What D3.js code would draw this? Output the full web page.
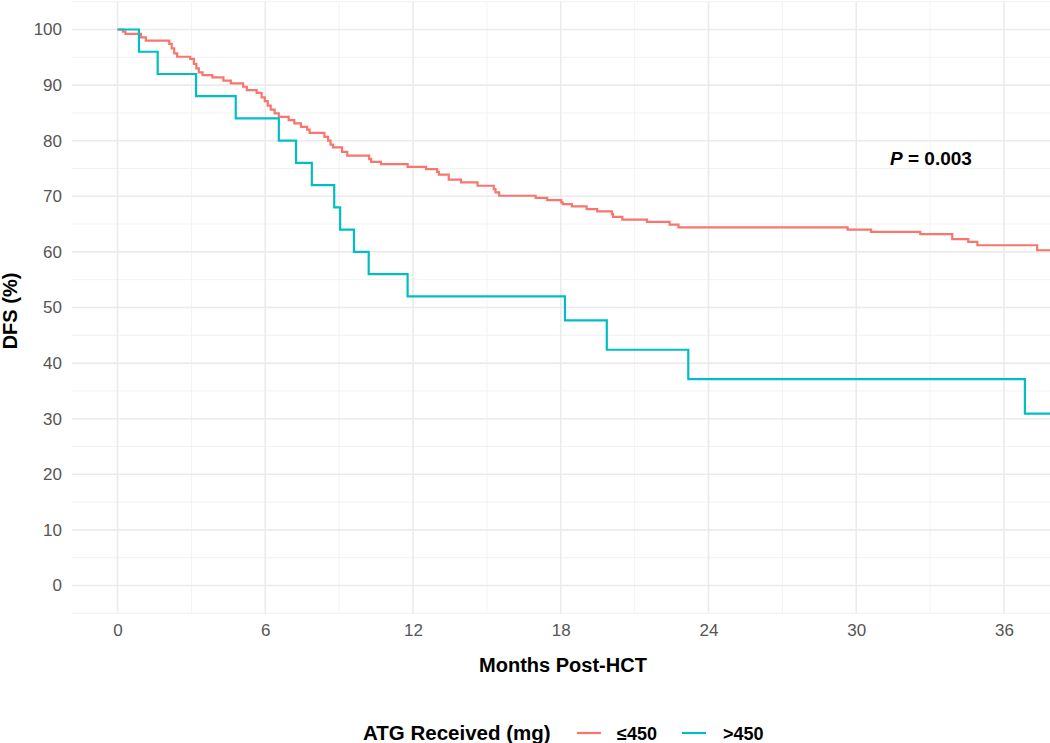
<!DOCTYPE html>
<html>
<head>
<meta charset="utf-8">
<script src="https://cdn.jsdelivr.net/npm/d3@7"></script>
<style>
  html, body { margin: 0; padding: 0; background: #ffffff; }
  svg { display: block; font-family: "Liberation Sans", Arial, sans-serif; }
</style>
</head>
<body>
<svg id="chart" width="1050" height="743"></svg>
<script>
// ---- data ----
const monthTicks = [0, 6, 12, 18, 24, 30, 36];
const monthMinor = [3, 9, 15, 21, 27, 33];
const dfsTicks = [0, 10, 20, 30, 40, 50, 60, 70, 80, 90, 100];
const dfsMinor = [-5, 5, 15, 25, 35, 45, 55, 65, 75, 85, 95, 105];

const groupNames = ["\u2264450", ">450"];
const groupColors = ["#F8766D", "#00BFC4"];

// ATG <= 450 mg : step times (months) and DFS (%) after each step
const lowTimes = [0, 0.22, 0.32, 0.95, 1.15, 2.1, 2.2, 2.3, 2.42, 2.95, 3.1, 3.2, 3.3, 3.45,
  3.85, 4.3, 4.6, 5.1, 5.25, 5.65, 5.85, 5.98, 6.1, 6.22, 6.38, 6.55, 6.95, 7.18, 7.45,
  7.7, 7.8, 8.4, 8.55, 8.65, 8.75, 9.12, 9.33, 10.22, 10.3, 10.7, 11.78, 12.53, 12.98,
  13.05, 13.45, 13.95, 14.62, 15.28, 15.35, 15.5, 16.98, 17.45, 18.02, 18.08, 18.45,
  19.05, 19.48, 20.08, 20.12, 20.5, 21.5, 22.42, 22.78, 29.65, 30.6, 32.6, 33.9, 34.55,
  34.92, 37.35];
const lowDFS = [100, 99.6, 99.2, 98.6, 98.0, 97.4, 96.6, 95.7, 95.1, 94.7, 93.8, 93.0, 92.3, 91.8,
  91.4, 90.8, 90.3, 89.7, 89.1, 88.6, 87.8, 87.1, 86.3, 85.6, 84.9, 84.3, 83.7, 83.1, 82.5,
  82.0, 81.4, 80.7, 80.0, 79.3, 78.8, 78.0, 77.3, 76.7, 76.2, 75.8, 75.3, 74.9, 74.4,
  73.9, 73.0, 72.5, 71.9, 71.3, 70.7, 70.1, 69.7, 69.3, 68.9, 68.6, 68.2,
  67.7, 67.3, 66.8, 66.3, 65.8, 65.4, 64.9, 64.4, 64.0, 63.6, 63.2, 62.3, 61.8,
  61.2, 60.3];

// ATG > 450 mg
const highTimes = [0, 0.87, 1.63, 3.19, 4.8, 6.55, 7.25, 7.89, 8.8, 9.04, 9.6, 10.2, 11.78,
  18.17, 19.87, 23.18, 36.85];
const highDFS = [100, 96, 92, 88, 84, 80, 76, 72, 68, 64, 60, 56, 52, 47.7, 42.4, 37.1, 30.9];

const lastFollowUp = [37.9, 37.9];
const pValueText = "= 0.003";

// ---- layout ----
const svg = d3.select("#chart");
const panel = { left: 72, right: 1050, top: 1.7, bottom: 613.3 };

const x = d3.scaleLinear().domain([-1.85, 37.87]).range([panel.left, panel.right]);
const y = d3.scaleLinear().domain([-5, 105]).range([panel.bottom, panel.top]);

const grid = svg.append("g");
// minor grid
grid.selectAll("line.ymin").data(dfsMinor).join("line")
  .attr("x1", panel.left).attr("x2", panel.right)
  .attr("y1", d => y(d)).attr("y2", d => y(d))
  .attr("stroke", "#f0f0f0").attr("stroke-width", 0.9);
grid.selectAll("line.xmin").data(monthMinor).join("line")
  .attr("y1", panel.top).attr("y2", panel.bottom)
  .attr("x1", d => x(d)).attr("x2", d => x(d))
  .attr("stroke", "#f0f0f0").attr("stroke-width", 0.9);
// major grid
grid.selectAll("line.ymaj").data(dfsTicks).join("line")
  .attr("x1", panel.left).attr("x2", panel.right)
  .attr("y1", d => y(d)).attr("y2", d => y(d))
  .attr("stroke", "#ebebeb").attr("stroke-width", 1.6);
grid.selectAll("line.xmaj").data(monthTicks).join("line")
  .attr("y1", panel.top).attr("y2", panel.bottom)
  .attr("x1", d => x(d)).attr("x2", d => x(d))
  .attr("stroke", "#ebebeb").attr("stroke-width", 1.6);

// axes (ggplot-minimal style: no domain line, no ticks)
const yAxis = d3.axisLeft(y).tickValues(dfsTicks).tickSize(0).tickPadding(0);
svg.append("g").attr("transform", "translate(62,0)").call(yAxis)
  .call(g => g.select(".domain").remove())
  .call(g => g.selectAll("text").attr("font-size", 17).attr("fill", "#555555")
    .attr("font-family", "Liberation Sans, Arial, sans-serif"));

const xAxis = d3.axisBottom(x).tickValues(monthTicks).tickSize(0).tickPadding(0);
svg.append("g").attr("transform", "translate(0,624)").call(xAxis)
  .call(g => g.select(".domain").remove())
  .call(g => g.selectAll("text").attr("font-size", 17).attr("fill", "#555555")
    .attr("font-family", "Liberation Sans, Arial, sans-serif"));

// axis titles
svg.append("text").attr("x", 563).attr("y", 672).attr("text-anchor", "middle")
  .attr("font-size", 20).attr("font-weight", "bold").attr("fill", "#000")
  .text("Months Post-HCT");
svg.append("text").attr("transform", "translate(17,311) rotate(-90)").attr("text-anchor", "middle")
  .attr("font-size", 20).attr("font-weight", "bold").attr("fill", "#000")
  .text("DFS (%)");

// curves
const line = d3.line().x(d => x(d[0])).y(d => y(d[1])).curve(d3.curveStepAfter);
const series = [
  { times: lowTimes, vals: lowDFS },
  { times: highTimes, vals: highDFS }
];
const curves = svg.append("g");
series.forEach((s, i) => {
  const pts = s.times.map((t, j) => [t, s.vals[j]]);
  pts.push([lastFollowUp[i], s.vals[s.vals.length - 1]]);
  curves.append("path").datum(pts)
    .attr("d", line).attr("fill", "none")
    .attr("stroke", groupColors[i]).attr("stroke-width", 2.2);
});

// p-value annotation
const pt = svg.append("text").attr("x", 890).attr("y", 165)
  .attr("font-size", 19).attr("font-weight", "bold").attr("fill", "#000");
pt.append("tspan").attr("font-style", "italic").text("P");
pt.append("tspan").text(" " + pValueText);

// legend
const lg = svg.append("g");
lg.append("text").attr("x", 363).attr("y", 740).attr("font-size", 20.5)
  .attr("font-weight", "bold").attr("fill", "#000")
  .text("ATG Received (mg)");
const keyX = [577, 682];
const labX = [617, 723];
groupNames.forEach((n, i) => {
  lg.append("line").attr("x1", keyX[i]).attr("x2", keyX[i] + 24)
    .attr("y1", 733).attr("y2", 733)
    .attr("stroke", groupColors[i]).attr("stroke-width", 2.2);
  lg.append("text").attr("x", labX[i]).attr("y", 740).attr("font-size", 18)
    .attr("font-weight", "bold").attr("fill", "#000").text(n);
});
</script>
</body>
</html>
